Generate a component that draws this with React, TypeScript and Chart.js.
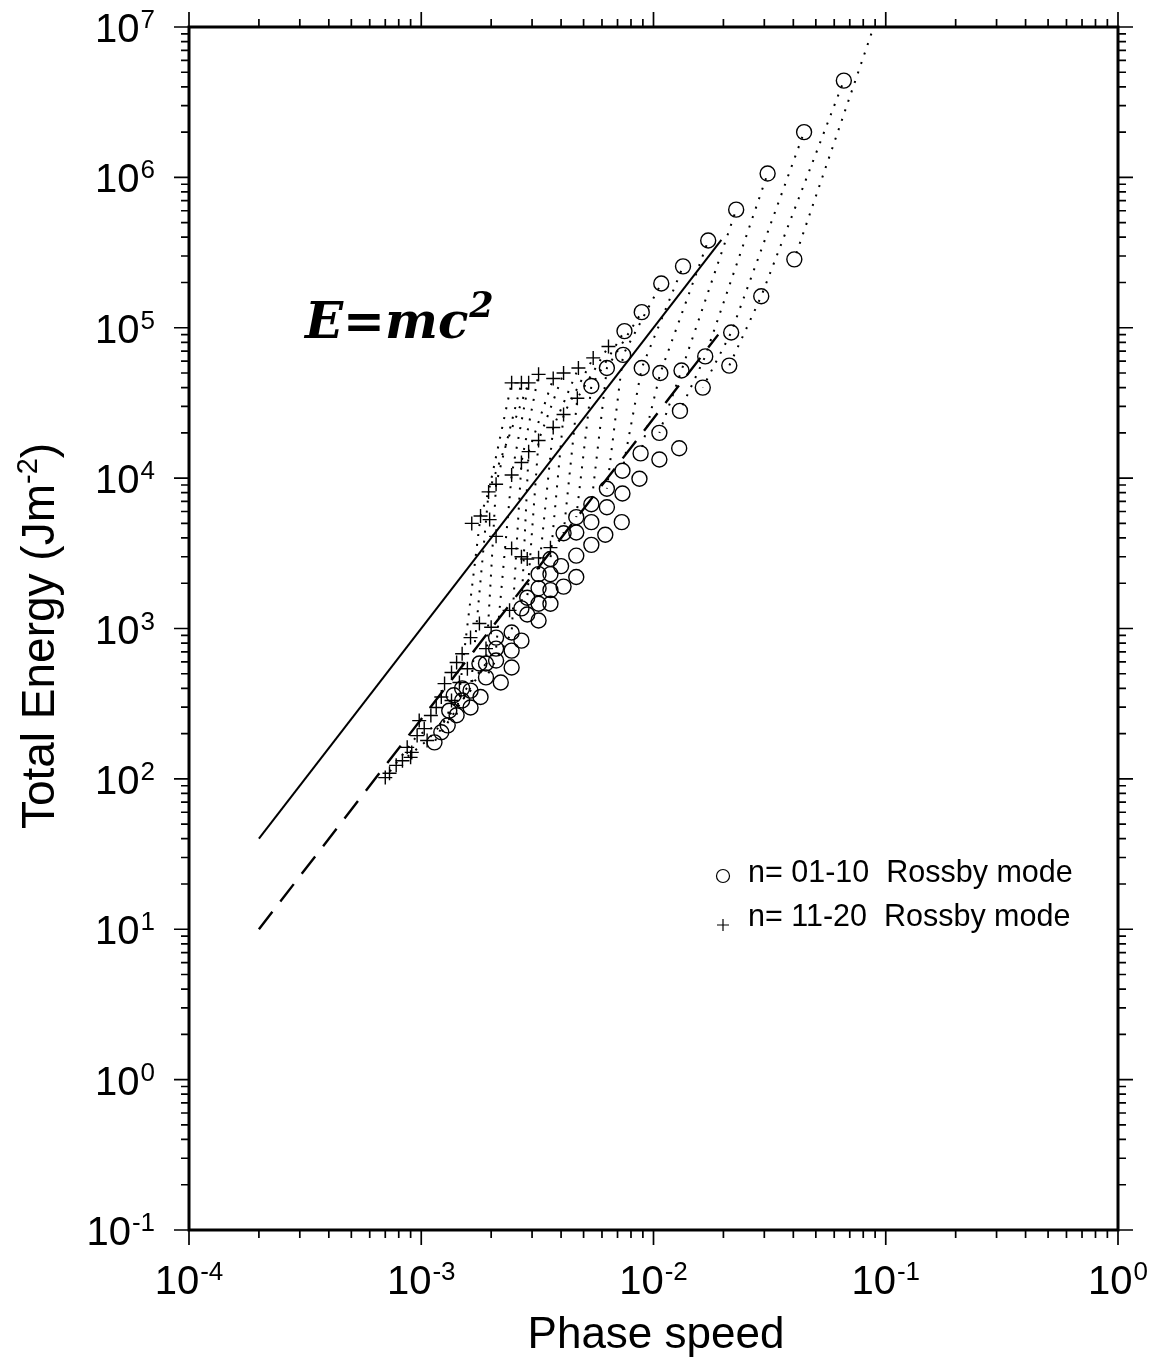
import React, { useEffect, useRef } from "react";
import { Chart, registerables } from "chart.js";

Chart.register(...registerables);

// Reference fits: E = m c^2
const SOLID_C = [2e-4, 0.0196];
const SOLID_E = [40, 3.84e5];
const DASHED_C = [2e-4, 0.019];
const DASHED_E = [10, 9.0e4];

// n = 01-10 Rossby modes: [phase speed, total energy]
const MODES_LOW: number[][] = [
  [0.066, 4.4e6], [0.0445, 2.0e6], [0.031, 1.06e6], [0.0227, 6.1e5], [0.0172, 3.8e5],
  [0.0134, 2.56e5], [0.0108, 1.97e5], [0.0089, 1.27e5], [0.0075, 9.5e4], [0.0074, 6.6e4],
  [0.0063, 5.4e4], [0.0054, 4.1e4], [0.0089, 5.4e4], [0.0107, 5.0e4], [0.0132, 5.2e4],
  [0.0167, 6.45e4], [0.0216, 9.3e4], [0.0212, 5.6e4], [0.0163, 4.0e4], [0.013, 2.8e4],
  [0.0106, 2.0e4], [0.0088, 1.46e4], [0.0106, 1.33e4], [0.0129, 1.58e4], [0.0404, 2.85e5],
  [0.0291, 1.62e5], [0.00735, 1.12e4], [0.0087, 9.9e3], [0.00735, 7.9e3], [0.0063, 8.5e3],
  [0.0054, 6.7e3], [0.0063, 6.4e3], [0.0073, 5.1e3], [0.00465, 5.5e3], [0.0054, 5.1e3],
  [0.0062, 4.2e3], [0.0041, 4.3e3], [0.00465, 4.35e3], [0.0054, 3.6e3], [0.0036, 2.9e3],
  [0.004, 2.6e3], [0.00465, 3.05e3], [0.00465, 2.2e3], [0.0032, 2.3e3], [0.0036, 2.3e3],
  [0.0041, 1.9e3], [0.0032, 1.85e3], [0.0036, 1.8e3], [0.0036, 1.46e3], [0.00286, 1.6e3],
  [0.0032, 1.46e3], [0.0027, 1.36e3], [0.00286, 1.24e3], [0.0032, 1.13e3], [0.00245, 940],
  [0.0027, 830], [0.0021, 870], [0.0021, 735], [0.00245, 713], [0.0019, 585],
  [0.0021, 612], [0.00245, 550], [0.00178, 585], [0.0019, 473], [0.0022, 437],
  [0.0015, 400], [0.00163, 386], [0.0018, 350], [0.00138, 360], [0.0015, 332],
  [0.00163, 298], [0.00132, 284], [0.00142, 265], [0.0013, 227], [0.00122, 204],
  [0.00114, 175],
];

// n = 11-20 Rossby modes: [phase speed, total energy]
const MODES_HIGH: number[][] = [
  [0.0064, 7.5e4], [0.0055, 6.3e4], [0.00475, 5.4e4], [0.0041, 5.0e4], [0.0037, 4.6e4],
  [0.0032, 4.9e4], [0.0029, 4.3e4], [0.0027, 4.3e4], [0.00245, 4.3e4],
  [0.0047, 3.4e4], [0.0041, 2.65e4], [0.0037, 2.17e4], [0.0032, 1.78e4], [0.0029, 1.5e4],
  [0.0027, 1.27e4], [0.00245, 1.05e4], [0.0021, 9.1e3], [0.00195, 8.1e3], [0.0018, 5.6e3],
  [0.00165, 5.0e3], [0.00197, 5.3e3], [0.0021, 4.1e3], [0.00245, 3.4e3], [0.0027, 3.0e3],
  [0.00286, 2.9e3], [0.0032, 2.95e3], [0.0036, 3.45e3],
  [0.0024, 1.32e3], [0.00178, 1.08e3], [0.002, 1.02e3], [0.00163, 870], [0.0019, 735],
  [0.0015, 680], [0.00142, 594], [0.00158, 540], [0.00135, 510], [0.00146, 437],
  [0.00126, 430], [0.00122, 350], [0.00135, 332], [0.00116, 298], [0.0011, 264],
  [0.00098, 244], [0.00103, 216], [0.00096, 194], [0.00106, 180], [0.00087, 162],
  [0.00091, 150], [0.0009, 139], [0.00083, 132], [0.00078, 123], [0.00073, 109],
  [0.0007, 102],
];

// Dotted curves joining the modes of one family, from fastest to slowest
const CURVES: number[][][] = [
  [[0.097, 1.5e7], [0.0404, 2.85e5]],
  [[0.066, 4.4e6], [0.0291, 1.62e5], [0.0212, 5.6e4]],
  [[0.0445, 2.0e6], [0.0216, 9.3e4], [0.0163, 4.0e4]],
  [[0.031, 1.06e6], [0.0167, 6.45e4], [0.013, 2.8e4]],
  [[0.0227, 6.1e5], [0.0132, 5.2e4], [0.0106, 2.0e4]],
  [[0.0172, 3.8e5], [0.0107, 5.0e4], [0.0088, 1.46e4]],
  [[0.0134, 2.56e5], [0.0089, 5.4e4], [0.00735, 1.12e4]],
  [[0.0108, 1.97e5], [0.0074, 6.6e4], [0.0063, 8.5e3]],
  [[0.0089, 1.27e5], [0.0063, 5.4e4], [0.0054, 6.7e3]],
  [[0.0075, 9.5e4], [0.0054, 4.1e4], [0.00465, 5.5e3]],
  [[0.0064, 7.5e4], [0.0047, 3.4e4], [0.0041, 4.3e3]],
  [[0.0055, 6.3e4], [0.0041, 2.65e4], [0.0036, 2.9e3]],
  [[0.00475, 5.4e4], [0.0037, 2.17e4], [0.0032, 2.3e3]],
  [[0.0041, 5.0e4], [0.0032, 1.78e4], [0.00286, 1.6e3]],
  [[0.0037, 4.6e4], [0.0029, 1.5e4], [0.0027, 1.36e3]],
  [[0.0032, 4.9e4], [0.0027, 1.27e4], [0.00245, 940], [0.0019, 473]],
  [[0.0029, 4.3e4], [0.00245, 1.05e4], [0.0021, 735], [0.0015, 332], [0.00122, 204]],
  [[0.0027, 4.3e4], [0.0021, 9.1e3], [0.0019, 585], [0.00132, 284], [0.00114, 175]],
  [[0.0029, 4.3e4], [0.00195, 8.1e3], [0.00163, 386], [0.00106, 180], [0.00083, 132]],
  [[0.00245, 4.3e4], [0.00195, 8.1e3], [0.0018, 5.6e3], [0.00142, 265], [0.00096, 194], [0.0007, 102]],
];

const X_MIN_EXP = -4;
const X_MAX_EXP = 0;
const Y_MIN_EXP = -1;
const Y_MAX_EXP = 7;

const LEGEND_LABELS = ["n= 01-10  Rossby mode", "n= 11-20  Rossby mode"];
const X_TITLE = "Phase speed";
const Y_TITLE = "Total Energy (Jm";
const Y_TITLE_SUP = "-2";
const FORMULA = "E=mc";
const FORMULA_SUP = "2";

const FONT = "'Liberation Sans', Arial, Helvetica, sans-serif";
const SERIF = "'DejaVu Serif', 'Liberation Serif', serif";

const toPts = (arr: number[][]) => arr.map(([x, y]) => ({ x, y }));

function drawPower(ctx: CanvasRenderingContext2D, exp: number, cx: number, baseY: number, align: "center" | "right") {
  const base = "10";
  const sup = String(exp);
  ctx.font = `40px ${FONT}`;
  const wb = ctx.measureText(base).width;
  ctx.font = `26px ${FONT}`;
  const ws = ctx.measureText(sup).width;
  const total = wb + ws + 1;
  const left = align === "center" ? cx - total / 2 : cx - total;
  ctx.textAlign = "left";
  ctx.textBaseline = "alphabetic";
  ctx.font = `40px ${FONT}`;
  ctx.fillText(base, left, baseY);
  ctx.font = `26px ${FONT}`;
  ctx.fillText(sup, left + wb + 1, baseY - 14);
}

const framePlugin = {
  id: "gmtFrame",
  afterDraw(chart: any) {
    const { ctx, chartArea } = chart;
    const xs = chart.scales.x;
    const ys = chart.scales.y;
    const { left, right, top, bottom } = chartArea;
    ctx.save();
    ctx.strokeStyle = "#000";
    ctx.fillStyle = "#000";

    // ticks on all four sides, pointing outward
    ctx.lineWidth = 1.7;
    const MAJ = 15;
    const MIN = 8;
    for (let e = X_MIN_EXP; e <= X_MAX_EXP; e++) {
      const px = xs.getPixelForValue(Math.pow(10, e));
      ctx.beginPath();
      ctx.moveTo(px, bottom); ctx.lineTo(px, bottom + MAJ);
      ctx.moveTo(px, top); ctx.lineTo(px, top - MAJ);
      ctx.stroke();
      if (e < X_MAX_EXP) {
        for (let k = 2; k <= 9; k++) {
          const p = xs.getPixelForValue(k * Math.pow(10, e));
          ctx.beginPath();
          ctx.moveTo(p, bottom); ctx.lineTo(p, bottom + MIN);
          ctx.moveTo(p, top); ctx.lineTo(p, top - MIN);
          ctx.stroke();
        }
      }
    }
    for (let e = Y_MIN_EXP; e <= Y_MAX_EXP; e++) {
      const py = ys.getPixelForValue(Math.pow(10, e));
      ctx.beginPath();
      ctx.moveTo(left, py); ctx.lineTo(left - MAJ, py);
      ctx.moveTo(right, py); ctx.lineTo(right + MAJ, py);
      ctx.stroke();
      if (e < Y_MAX_EXP) {
        for (let k = 2; k <= 9; k++) {
          const p = ys.getPixelForValue(k * Math.pow(10, e));
          ctx.beginPath();
          ctx.moveTo(left, p); ctx.lineTo(left - MIN, p);
          ctx.moveTo(right, p); ctx.lineTo(right + MIN, p);
          ctx.stroke();
        }
      }
    }

    // frame
    ctx.lineWidth = 3;
    ctx.strokeRect(left, top, right - left, bottom - top);

    // tick labels
    for (let e = X_MIN_EXP; e <= X_MAX_EXP; e++) {
      const px = xs.getPixelForValue(Math.pow(10, e));
      drawPower(ctx, e, px, bottom + 64, "center");
    }
    for (let e = Y_MIN_EXP; e <= Y_MAX_EXP; e++) {
      const py = ys.getPixelForValue(Math.pow(10, e));
      drawPower(ctx, e, left - 34, py + 15, "right");
    }

    // axis titles
    ctx.font = `44px ${FONT}`;
    ctx.textAlign = "center";
    ctx.textBaseline = "alphabetic";
    ctx.fillText(X_TITLE, 656, 1348);

    ctx.save();
    ctx.translate(54, 636);
    ctx.rotate(-Math.PI / 2);
    ctx.font = `46px ${FONT}`;
    const wMain = ctx.measureText(Y_TITLE).width;
    ctx.font = `29px ${FONT}`;
    const wSup = ctx.measureText(Y_TITLE_SUP).width;
    ctx.font = `46px ${FONT}`;
    const wClose = ctx.measureText(")").width;
    const tot = wMain + wSup + wClose;
    const x0 = -tot / 2;
    ctx.textAlign = "left";
    ctx.fillText(Y_TITLE, x0, 0);
    ctx.font = `29px ${FONT}`;
    ctx.fillText(Y_TITLE_SUP, x0 + wMain, -17);
    ctx.font = `46px ${FONT}`;
    ctx.fillText(")", x0 + wMain + wSup, 0);
    ctx.restore();

    // formula
    ctx.font = `italic bold 50px ${SERIF}`;
    ctx.textAlign = "left";
    const wf = ctx.measureText(FORMULA).width;
    ctx.fillText(FORMULA, 305, 338);
    ctx.font = `italic bold 35px ${SERIF}`;
    ctx.fillText(FORMULA_SUP, 305 + wf + 1, 317);

    // legend
    ctx.lineWidth = 1.2;
    ctx.beginPath();
    ctx.arc(723, 876, 6.5, 0, Math.PI * 2);
    ctx.stroke();
    ctx.beginPath();
    ctx.moveTo(717, 925); ctx.lineTo(729, 925);
    ctx.moveTo(723, 919); ctx.lineTo(723, 931);
    ctx.stroke();
    ctx.font = `30.5px ${FONT}`;
    ctx.fillText(LEGEND_LABELS[0], 748, 882);
    ctx.fillText(LEGEND_LABELS[1], 748, 926);

    ctx.restore();
  },
};

export default function App() {
  const ref = useRef<HTMLCanvasElement>(null);
  useEffect(() => {
    if (!ref.current) return;
    const curveSets = CURVES.map((c) => ({
      data: toPts(c),
      showLine: true,
      borderColor: "#000",
      borderWidth: 2,
      borderDash: [2, 8],
      borderDashOffset: 5,
      borderCapStyle: "butt",
      pointRadius: 0,
      fill: false,
      order: 5,
    }));
    const chart = new Chart(ref.current, {
      type: "scatter",
      data: {
        datasets: [
          ...curveSets,
          {
            data: SOLID_C.map((x, i) => ({ x, y: SOLID_E[i] })),
            showLine: true,
            borderColor: "#000",
            borderWidth: 2,
            pointRadius: 0,
            order: 4,
          },
          {
            data: DASHED_C.map((x, i) => ({ x, y: DASHED_E[i] })),
            showLine: true,
            borderColor: "#000",
            borderWidth: 2.4,
            borderDash: [22, 13],
            pointRadius: 0,
            order: 4,
          },
          {
            data: toPts(MODES_LOW),
            pointStyle: "circle",
            pointRadius: 7.5,
            borderColor: "#000",
            backgroundColor: "rgba(0,0,0,0)",
            borderWidth: 1.4,
            order: 1,
          },
          {
            data: toPts(MODES_HIGH),
            pointStyle: "cross",
            pointRadius: 7,
            borderColor: "#000",
            borderWidth: 1.4,
            order: 1,
          },
        ] as any,
      },
      options: {
        animation: false,
        responsive: false,
        devicePixelRatio: 1,
        layout: { padding: { left: 189, right: 42, top: 27, bottom: 129 } },
        plugins: { legend: { display: false }, tooltip: { enabled: false } },
        scales: {
          x: { type: "logarithmic", min: 1e-4, max: 1, display: false },
          y: { type: "logarithmic", min: 0.1, max: 1e7, display: false },
        },
      },
      plugins: [framePlugin],
    });
    return () => chart.destroy();
  }, []);
  return (
    <div style={{ position: "absolute", left: 0, top: 0, width: 1160, height: 1359, background: "#fff" }}>
      <canvas ref={ref} width={1160} height={1359} />
    </div>
  );
}
